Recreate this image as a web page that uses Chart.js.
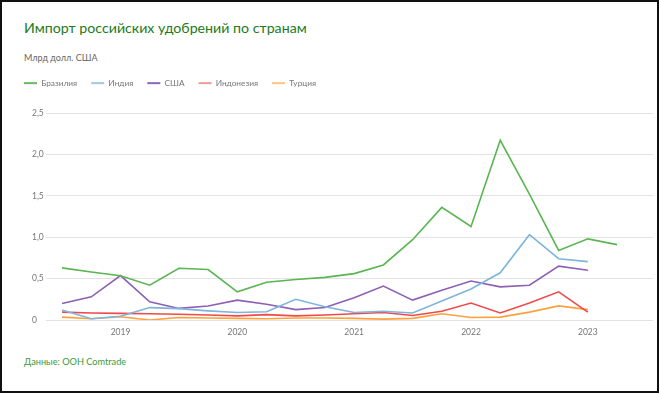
<!DOCTYPE html>
<html><head><meta charset="utf-8">
<script src="https://cdn.jsdelivr.net/npm/chart.js@4/dist/chart.umd.min.js"></script>
<style>
html,body{margin:0;padding:0;background:#fff;}
body{width:660px;height:394px;position:relative;overflow:hidden;font-family:Lato,"Noto Sans",sans-serif;}
#frame{position:absolute;left:0;top:0;width:659px;height:393px;box-sizing:border-box;border:2px solid #111;pointer-events:none;z-index:2;}
#title{position:absolute;left:24px;top:19px;font-size:14.2px;color:#237a1c;white-space:nowrap;}
#sub{position:absolute;left:24px;top:52px;font-size:9px;color:#666;white-space:nowrap;}
#src{position:absolute;left:24px;top:356px;font-size:9.2px;color:#3c9a3c;white-space:nowrap;}
#wrap{position:absolute;left:0;top:0;width:660px;height:394px;}
</style></head>
<body>
<div id="frame"></div>
<div id="title">Импорт российских удобрений по странам</div>
<div id="sub">Млрд долл. США</div>
<div id="src">Данные: ООН Comtrade</div>
<div id="wrap"><canvas id="c"></canvas></div>
<script>
const quarters = ["2018 Q3","2018 Q4","2019 Q1","2019 Q2","2019 Q3","2019 Q4","2020 Q1","2020 Q2","2020 Q3","2020 Q4","2021 Q1","2021 Q2","2021 Q3","2021 Q4","2022 Q1","2022 Q2","2022 Q3","2022 Q4","2023 Q1","2023 Q2"];
const yearTicks = {2:"2019",6:"2020",10:"2021",14:"2022",18:"2023"};
const yTickLabels = {0:"0",0.5:"0,5",1:"1,0",1.5:"1,5",2:"2,0",2.5:"2,5"};
const brazil    = [0.63,0.58,0.535,0.42,0.625,0.61,0.34,0.455,0.49,0.515,0.56,0.665,0.97,1.36,1.13,2.17,1.52,0.84,0.98,0.91];
const india     = [0.12,0.015,0.045,0.15,0.137,0.11,0.09,0.10,0.25,0.16,0.09,0.105,0.085,0.23,0.375,0.57,1.03,0.74,0.705];
const usa       = [0.20,0.28,0.536,0.22,0.14,0.17,0.24,0.19,0.125,0.15,0.27,0.41,0.24,0.36,0.47,0.40,0.42,0.65,0.60];
const indonesia = [0.095,0.085,0.08,0.075,0.07,0.06,0.05,0.065,0.05,0.06,0.075,0.09,0.055,0.105,0.205,0.085,0.205,0.34,0.095];
const turkey    = [0.035,0.015,0.04,0.0,0.03,0.025,0.02,0.015,0.025,0.025,0.02,0.01,0.02,0.075,0.03,0.035,0.095,0.17,0.125];

const series = [
  {name:"Бразилия", data:brazil, color:"#5ab552", legend:"#66bb5e"},
  {name:"Индия", data:india, color:"#7db5de", legend:"#9fc8e8"},
  {name:"США", data:usa, color:"#8d5fb7", legend:"#8e66bb"},
  {name:"Индонезия", data:indonesia, color:"#ef4a4a", legend:"#f29a9a"},
  {name:"Турция", data:turkey, color:"#ffa03c", legend:"#ffc47f"}
];
const FONT = "Lato, 'Noto Sans', sans-serif";

const layoutFix = {
  id:'layoutFix',
  beforeInit(chart){
    const lg = chart.legend;
    const fit = lg.fit;
    lg.fit = function(){ fit.call(this); this.height = 48; };
  },
  afterLayout(chart){
    chart.scales.y.left = 32;
  }
};

new Chart(document.getElementById('c'), {
  type:'line',
  data:{
    labels: quarters,
    datasets: series.map(s => ({
      label: s.name,
      data: s.data.map((v,i) => ({x:i, y:v})),
      borderColor: s.color,
      backgroundColor: s.legend,
      borderWidth: 1.6,
      pointRadius: 0,
      tension: 0,
      fill:false,
      legendColor: s.legend
    }))
  },
  options:{
    responsive:true,
    maintainAspectRatio:false,
    animation:false,
    devicePixelRatio:1,
    layout:{padding:{left:10,right:7,top:65,bottom:54}},
    plugins:{
      tooltip:{enabled:false},
      legend:{
        display:true,
        position:'top',
        align:'start',
        labels:{
          boxWidth:13,
          boxHeight:2,
          padding:14,
          color:'#777',
          font:{family:FONT,size:8.3},
          generateLabels(chart){
            return chart.data.datasets.map((d,i)=>({
              text:d.label, fillStyle:d.legendColor, strokeStyle:d.legendColor,
              lineWidth:0, hidden:false, datasetIndex:i, fontColor:'#777'
            }));
          }
        }
      }
    },
    scales:{
      x:{
        type:'linear',
        min:-0.55, max:20.23,
        grid:{display:false, drawTicks:false},
        border:{display:false},
        afterBuildTicks(scale){ scale.ticks = Object.keys(yearTicks).map(k=>({value:+k})); },
        afterFit(scale){ scale.height = 20; },
        ticks:{
          padding:7,
          color:'#777',
          font:{family:FONT,size:8.5},
          maxRotation:0,
          autoSkip:false,
          callback:(v)=>yearTicks[v] ?? ''
        }
      },
      y:{
        min:0, max:2.5,
        grid:{color:'#e3e3e3', lineWidth:1, drawTicks:false},
        border:{display:false},
        afterBuildTicks(scale){ scale.ticks = Object.keys(yTickLabels).map(k=>({value:+k})); },
        afterFit(scale){ scale.width = 36; },
        ticks:{
          crossAlign:'far',
          color:'#777',
          font:{family:FONT,size:8.5},
          callback:(v)=>yTickLabels[v] ?? ''
        }
      }
    }
  },
  plugins:[layoutFix]
});
</script>
</body></html>
